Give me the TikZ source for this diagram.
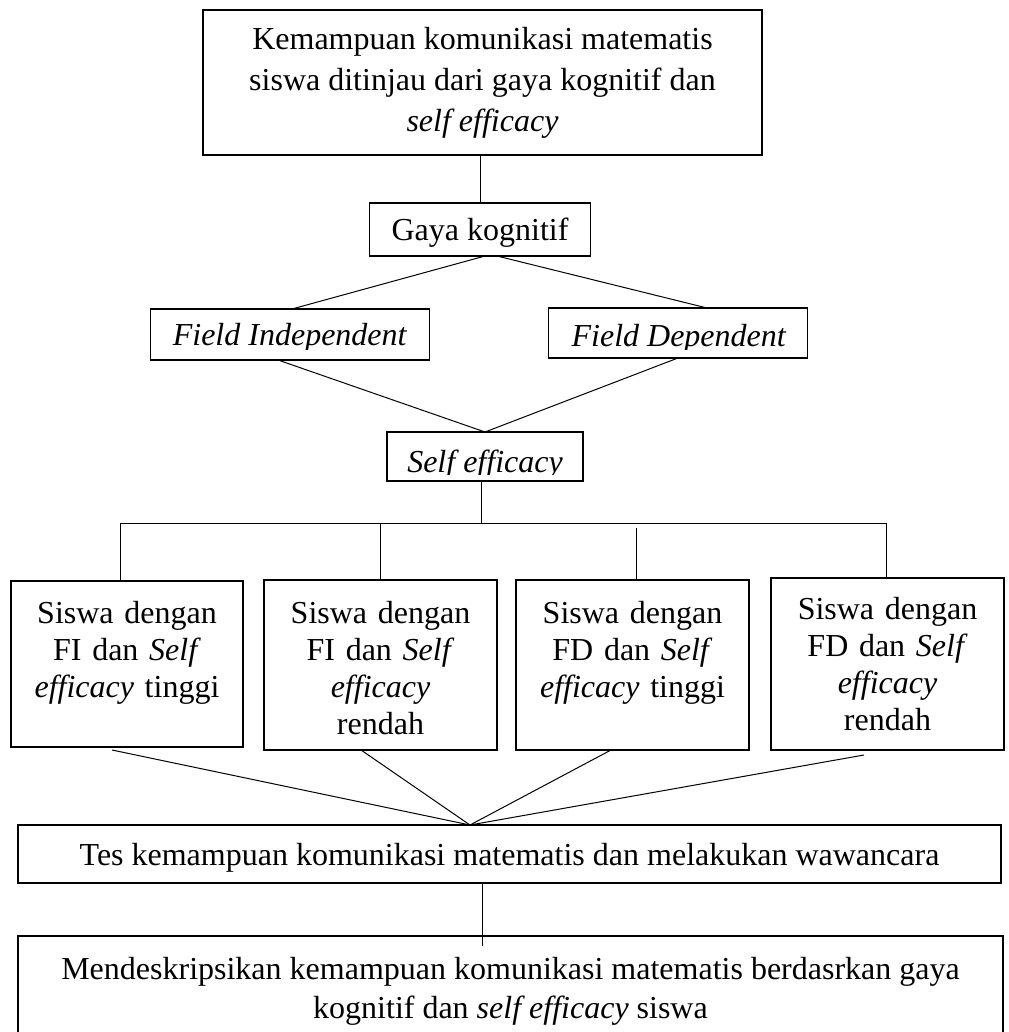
\documentclass[tikz,border=0pt]{standalone}
\usepackage{fontspec}
\setmainfont{Liberation Serif}
\usetikzlibrary{calc}
\begin{document}
\begin{tikzpicture}[x=1pt,y=-1pt,
  box/.style={draw, line width=1.3pt, inner sep=0pt, outer sep=0pt},
  link/.style={line width=1pt},
  lbl/.style={inner sep=0pt, outer sep=0pt, font=\fontsize{32}{38}\selectfont},
  mlbl/.style={inner sep=0pt, outer sep=0pt, font=\fontsize{32}{37}\selectfont, align=center, text width=225pt}]
\useasboundingbox (0,0) rectangle (1008,1032);

% top box
\node[box, line width=2.8pt, minimum width=559pt, minimum height=145pt,
      font=\fontsize{32}{41}\selectfont, align=center] (top) at (482.5,82.5)
  {Kemampuan komunikasi matematis\\ siswa ditinjau dari gaya kognitif dan\\ \textit{self efficacy}};

% gaya kognitif
\node[box, minimum width=221pt, minimum height=53pt, text depth=0pt, font=\fontsize{32}{38}\selectfont] (gaya) at (480,229.5) {Gaya kognitif};

% field independent / dependent / self efficacy
\node[box, minimum width=279pt, minimum height=51pt] (fi) at (290,334.5) {};
\node[box, minimum width=259pt, minimum height=50pt] (fd) at (678,333) {};
\node[box, minimum width=196pt, minimum height=49pt] (se) at (485,456.5) {};
\begin{scope}
  \clip (150,300) rectangle (830,349);
  \node[lbl, anchor=base] (fit) at (290,345) {\textit{Field Independent}};
  \node[lbl, anchor=base] (fdt) at (679,346) {\textit{Field Dependent}};
\end{scope}
\begin{scope}
  \clip (387,432) rectangle (583,474);
  \node[lbl, anchor=base] (set) at (485,472) {\textit{Self efficacy}};
\end{scope}

% four student boxes
\node[box, minimum width=232pt, minimum height=166pt] (b1) at (127,664) {};
\node[box, minimum width=233pt, minimum height=170pt] (b2) at (380.5,665) {};
\node[box, minimum width=233pt, minimum height=170pt] (b3) at (632.5,665) {};
\node[box, minimum width=233pt, minimum height=172pt] (b4) at (887.5,664) {};
\node[mlbl, anchor=north] (t1) at ([yshift=-20pt]b1.north) {Siswa dengan\\ FI dan \textit{Self}\\ \textit{efficacy} tinggi};
\node[mlbl, anchor=north] (t2) at ([yshift=-21pt]b2.north) {Siswa dengan\\ FI dan \textit{Self}\\ \textit{efficacy}\\ rendah};
\node[mlbl, anchor=north] (t3) at ([yshift=-21pt]b3.north) {Siswa dengan\\ FD dan \textit{Self}\\ \textit{efficacy} tinggi};
\node[mlbl, anchor=north] (t4) at ([yshift=-19pt]b4.north) {Siswa dengan\\ FD dan \textit{Self}\\ \textit{efficacy}\\ rendah};

% bottom boxes
\node[box, minimum width=983pt, minimum height=58pt, text depth=0pt, font=\fontsize{32}{38}\selectfont] (tes) at (509.5,854)
  {Tes kemampuan komunikasi matematis dan melakukan wawancara};
\node[box, minimum width=985pt, minimum height=110pt, font=\fontsize{32}{39}\selectfont, align=center] (mende) at (510.5,991)
  {Mendeskripsikan kemampuan komunikasi matematis berdasrkan gaya\\ kognitif dan \textit{self efficacy} siswa};

% connectors
\draw[link] (gaya.north |- top.south) -- (gaya.north);
\draw[link] ([xshift=5pt]gaya.south) -- ([xshift=2pt]fi.north);
\draw[link] ([xshift=17pt]gaya.south) -- ([xshift=29pt]fd.north);
\draw[link] ([xshift=-12pt]fi.south) -- (se.north);
\draw[link] (fd.south) -- (se.north);

\coordinate (busc) at (481,523);
\coordinate (bus1) at (120,523);
\coordinate (bus2) at (380,523);
\coordinate (bus3) at (636,528);
\coordinate (bus4) at (886,523);
\draw[link] ([xshift=-4pt]se.south) -- (busc);
\draw[link] (bus1) -- (bus4);
\draw[link] (bus1) -- ([xshift=-7pt]b1.north);
\draw[link] (bus2) -- ([xshift=-0.5pt]b2.north);
\draw[link] (bus3) -- ([xshift=3.5pt]b3.north);
\draw[link] (bus4) -- ([xshift=-1.5pt]b4.north);

\draw[link] ([xshift=-15pt,yshift=-3pt]b1.south) -- ([xshift=-39.5pt]tes.north);
\draw[link] ([xshift=-19.5pt]b2.south) -- ([xshift=-39.5pt]tes.north);
\draw[link] ([xshift=-21.5pt]b3.south) -- ([xshift=-39.5pt]tes.north);
\draw[link] ([xshift=-23.5pt,yshift=-5pt]b4.south) -- ([xshift=-39.5pt]tes.north);

\draw[link] ([xshift=-27.5pt]tes.south) -- ([xshift=-28.5pt,yshift=-10pt]mende.north);
\end{tikzpicture}
\end{document}
